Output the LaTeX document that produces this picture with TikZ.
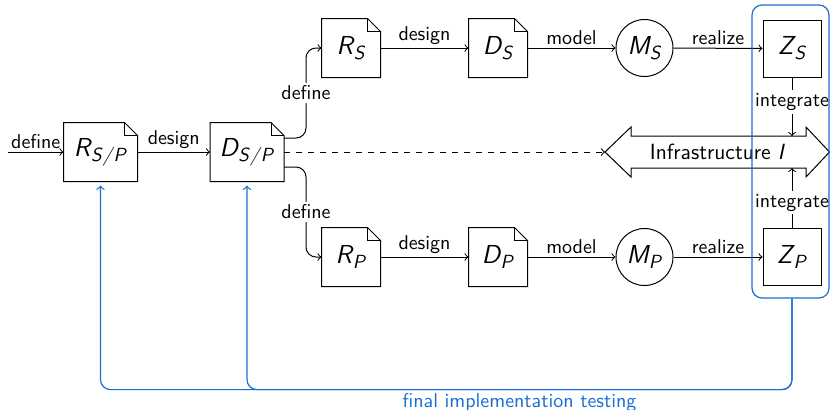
\documentclass[tikz,border=0pt]{standalone}
\usetikzlibrary{calc,fit}
\definecolor{tblue}{RGB}{25,110,210}
% sans slanted variable with a subscript
\newcommand\svar[2]{\textsl{#1}\kern-0.04em\raisebox{-0.42ex}{\fontsize{9.5}{10}\selectfont\textsl{#2}}}
\tikzset{
  lbl/.style={font=\fontsize{10}{11}\selectfont\sffamily, inner sep=1.5pt},
  big/.style={font=\fontsize{13}{15}\selectfont\sffamily, inner sep=0pt},
  docbox/.style={big, minimum width=29pt, minimum height=29pt},
  widedoc/.style={big, minimum width=36.5pt, minimum height=29pt},
  stateball/.style={big, draw, circle, minimum size=28.5pt},
  zbox/.style={big, draw, minimum width=29pt, minimum height=28.5pt},
  conn/.style={->, line width=0.5pt},
  fb/.style={->, tblue, line width=0.6pt, rounded corners=5pt, shorten >=2pt},
}
\begin{document}
\begin{tikzpicture}[x=0.5pt, y=-0.5pt, line width=0.5pt]
\useasboundingbox (0,0) rectangle (830,409);

% documents
\node[widedoc] (rsp) at (100.5,152) {\svar{R}{S\kern0.06em/\kern0.06em P}};
\node[widedoc] (dsp) at (247,152) {\svar{D}{S\kern0.06em/\kern0.06em P}};
\node[docbox] (rs) at (351,48) {\svar{R}{S}};
\node[docbox] (ds) at (498,48) {\svar{D}{S}};
\node[docbox] (rp) at (351,257) {\svar{R}{P}};
\node[docbox] (dp) at (498,257) {\svar{D}{P}};
% models and realizations
\node[stateball] (ms) at (644.5,48) {\svar{M}{S}};
\node[stateball] (mp) at (644.5,257) {\svar{M}{P}};
\node[zbox] (zs) at (792,48.5) {\svar{Z}{S}};
\node[zbox] (zp) at (792,257) {\svar{Z}{P}};

% dog-eared outlines
\foreach \n in {rsp,dsp,rs,ds,rp,dp}{
  \draw (\n.south west) -- (\n.north west) -- ([xshift=-6.5pt]\n.north east)
        -- ([yshift=-6.5pt]\n.north east) -- (\n.south east) -- cycle;
  \draw ([xshift=-6.5pt]\n.north east) -- ([xshift=-6.5pt,yshift=-6.5pt]\n.north east)
        -- ([yshift=-6.5pt]\n.north east);
}

% infrastructure double arrow
\draw (605,152) -- (631,127) -- (631,136) -- (806,136) -- (806,127) -- (829.5,152)
      -- (806,177) -- (806,168) -- (631,168) -- (631,177) -- cycle;
\node[font=\fontsize{11}{13}\selectfont\sffamily] (infra) at (717.5,152) {Infrastructure \textsl{I}};
\coordinate (itip) at (605,152);
\coordinate (itop) at (792,136);
\coordinate (ibot) at (792,168);

% main flow
\coordinate (start) at (8,152);
\draw[conn] (start) -- node[lbl, above] {define} (rsp);
\draw[conn] (rsp) -- node[lbl, above] {design} (dsp);
\draw[conn, rounded corners=5pt] ([yshift=7pt]dsp.east) -- ++(22,0)
      |- node[lbl, pos=0.25, fill=white] {define} (rs.west);
\draw[conn, rounded corners=5pt] ([yshift=-7.5pt]dsp.east) -- ++(22,0)
      |- node[lbl, pos=0.25, fill=white] {define} (rp.west);
\draw[conn, dashed] (dsp.east) -- (itip);

\draw[conn] (rs) -- node[lbl, above] {design} (ds);
\draw[conn] (ds) -- node[lbl, above] {model} (ms);
\draw[conn] (ms) -- node[lbl, above] {realize} (zs);
\draw[conn] (rp) -- node[lbl, above] {design} (dp);
\draw[conn] (dp) -- node[lbl, above] {model} (mp);
\draw[conn] (mp) -- node[lbl, above] {realize} (zp);

\draw[conn] (zs) -- node[lbl, pos=0.42, fill=white] {integrate} (itop);
\draw[conn] (zp) -- node[lbl, pos=0.42, fill=white] {integrate} (ibot);

% group of realizations, drawn over the labels
\node[draw=tblue, line width=0.6pt, rounded corners=5pt, inner sep=0pt,
      fit={(752,5) (829,298)}] (grp) {};

% feedback from the realizations
\draw[fb] (grp.south -| zp.south) -- ++(0,91) -| (rsp.south);
\draw[fb] (grp.south -| zp.south) -- ++(0,91) -| node[lbl, pos=0.25, below, text=tblue] {final implementation testing} (dsp.south);
\end{tikzpicture}
\end{document}
